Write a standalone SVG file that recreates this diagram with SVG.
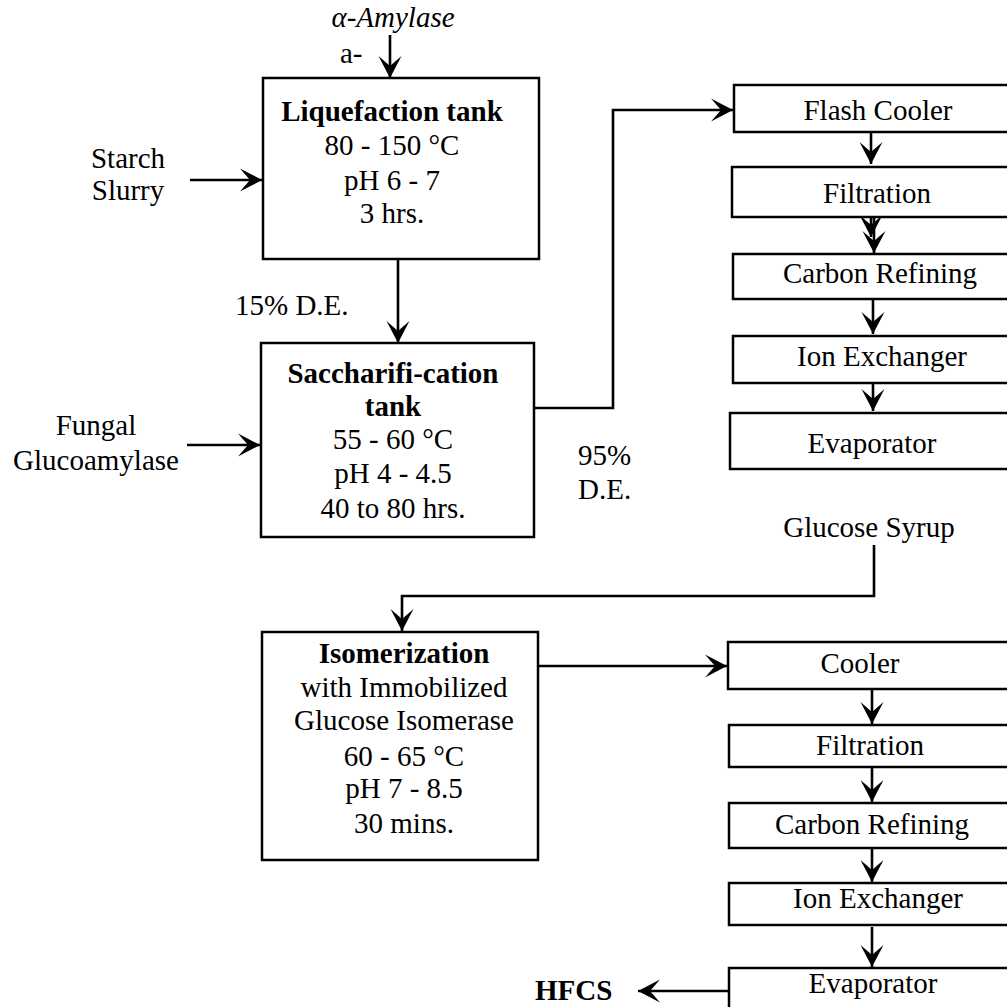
<svg xmlns="http://www.w3.org/2000/svg" width="1007" height="1007" viewBox="0 0 1007 1007">
<style>
text{font-family:"Liberation Serif","Times New Roman",serif;font-size:29px;fill:#000}
.c{text-anchor:middle}
.b{font-weight:bold}
.i{font-style:italic}
.box{fill:#fff;stroke:#000;stroke-width:2.5}
.con{fill:none;stroke:#000;stroke-width:2.6}
</style>
<defs>
<marker id="ah" viewBox="-25 -15 30 30" refX="0" refY="0" markerWidth="30" markerHeight="30" markerUnits="userSpaceOnUse" orient="auto" overflow="visible">
<path d="M0,0 L-22,-11.5 L-12,0 L-22,11.5 Z" fill="#000"/>
</marker>
</defs>
<rect width="1007" height="1007" fill="#fff"/>

<g id="connectors">
<path class="con" d="M390,35 V78" marker-end="url(#ah)"/>
<path class="con" d="M190,180 H262" marker-end="url(#ah)"/>
<path class="con" d="M187,445 H260" marker-end="url(#ah)"/>
<path class="con" d="M398,259 V343" marker-end="url(#ah)"/>
<path class="con" d="M534,408 H613 V110 H733" marker-end="url(#ah)"/>
<path class="con" d="M871,132 V164" marker-end="url(#ah)"/>
<path class="con" d="M871,204 V237" marker-end="url(#ah)"/>
<path class="con" d="M874,218 V253" marker-end="url(#ah)"/>
<path class="con" d="M873,299 V334" marker-end="url(#ah)"/>
<path class="con" d="M873,384 V411" marker-end="url(#ah)"/>
<path class="con" d="M874,545 V596 H402 V631" marker-end="url(#ah)"/>
<path class="con" d="M538,666 H727" marker-end="url(#ah)"/>
<path class="con" d="M872,689 V724" marker-end="url(#ah)"/>
<path class="con" d="M872,767 V802" marker-end="url(#ah)"/>
<path class="con" d="M872,849 V882" marker-end="url(#ah)"/>
<path class="con" d="M872,927 V967" marker-end="url(#ah)"/>
<path class="con" d="M729,991 H638" marker-end="url(#ah)"/>
</g>

<g id="labels">
<text class="c i" x="393" y="27">α-Amylase</text>
<text x="340" y="63">a-</text>
<text class="c" x="128" y="168">Starch</text>
<text class="c" x="128" y="200">Slurry</text>
<text class="c" x="96" y="435">Fungal</text>
<text class="c" x="96" y="470">Glucoamylase</text>
<text x="235" y="315">15% D.E.</text>
<text x="578" y="465">95%</text>
<text x="578" y="499">D.E.</text>
<text class="c" x="869" y="537">Glucose Syrup</text>
<text class="b" x="535" y="1000">HFCS</text>
</g>

<g id="liquefaction">
<rect class="box" x="263" y="78" width="276" height="181"/>
<text class="c b" x="392" y="121">Liquefaction tank</text>
<text class="c" x="392" y="155">80 - 150 °C</text>
<text class="c" x="392" y="190">pH 6 - 7</text>
<text class="c" x="392" y="223">3 hrs.</text>
</g>

<g id="saccharification">
<rect class="box" x="261" y="343" width="273" height="194"/>
<text class="c b" x="393" y="383">Saccharifi-cation</text>
<text class="c b" x="393" y="416">tank</text>
<text class="c" x="393" y="449">55 - 60 °C</text>
<text class="c" x="393" y="483">pH 4 - 4.5</text>
<text class="c" x="393" y="518">40 to 80 hrs.</text>
</g>

<g id="isomerization">
<rect class="box" x="262" y="632" width="276" height="228"/>
<text class="c b" x="404" y="663">Isomerization</text>
<text class="c" x="404" y="697">with Immobilized</text>
<text class="c" x="404" y="730">Glucose Isomerase</text>
<text class="c" x="404" y="766">60 - 65 °C</text>
<text class="c" x="404" y="798">pH 7 - 8.5</text>
<text class="c" x="404" y="833">30 mins.</text>
</g>

<g id="flash-cooler">
<rect class="box" x="734" y="85" width="300" height="47"/>
<text class="c" x="878" y="120">Flash Cooler</text>
</g>
<g id="filtration-1">
<rect class="box" x="732" y="167" width="300" height="50"/>
<text class="c" x="877" y="203">Filtration</text>
</g>
<g id="carbon-refining-1">
<rect class="box" x="733" y="254" width="300" height="45"/>
<text class="c" x="880" y="283">Carbon Refining</text>
</g>
<g id="ion-exchanger-1">
<rect class="box" x="733" y="336" width="300" height="47"/>
<text class="c" x="882" y="366">Ion Exchanger</text>
</g>
<g id="evaporator-1">
<rect class="box" x="730" y="413" width="300" height="56"/>
<text class="c" x="872" y="453">Evaporator</text>
</g>

<g id="cooler">
<rect class="box" x="728" y="642" width="300" height="47"/>
<text class="c" x="860" y="673">Cooler</text>
</g>
<g id="filtration-2">
<rect class="box" x="729" y="725" width="300" height="42"/>
<text class="c" x="870" y="755">Filtration</text>
</g>
<g id="carbon-refining-2">
<rect class="box" x="729" y="803" width="300" height="45"/>
<text class="c" x="872" y="834">Carbon Refining</text>
</g>
<g id="ion-exchanger-2">
<rect class="box" x="729" y="883" width="300" height="42"/>
<text class="c" x="878" y="908">Ion Exchanger</text>
</g>
<g id="evaporator-2">
<rect class="box" x="729" y="968" width="300" height="60"/>
<text class="c" x="873" y="993">Evaporator</text>
</g>
</svg>
